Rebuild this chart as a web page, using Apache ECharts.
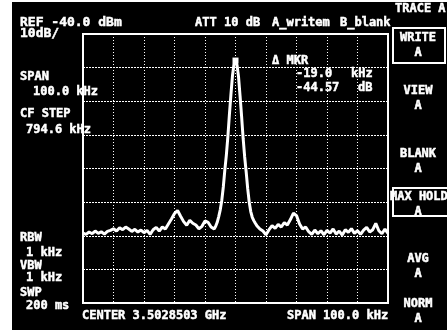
<!DOCTYPE html>
<html>
<head>
<meta charset="utf-8">
<style>
  html, body { margin: 0; padding: 0; background: #ffffff; }
  #chart { width: 447px; height: 336px; }
</style>
<script src="https://cdn.jsdelivr.net/npm/echarts@6/dist/echarts.min.js"></script>
</head>
<body>
<div id="chart"></div>
<script>
// Frequency offset from the centre frequency (kHz)
const freqOffsetKHz = [
  -50, -49, -48, -47, -46, -45, -44, -43, -42, -41,
  -40, -39, -38, -37, -36, -35, -34, -33, -32, -31,
  -30, -29, -28, -27, -26, -25, -24, -23, -22, -21,
  -20, -19, -18, -17, -16, -15, -14, -13, -12, -11,
  -10, -9, -8,
  -7, -6.5, -6, -5.5, -5, -4.5, -4, -3.5, -3, -2.5, -2, -1.5, -1, -0.5,
  0,
  0.5, 1, 1.5, 2, 2.5, 3, 3.5, 4, 4.5, 5, 5.5, 6, 6.5, 7,
  8, 9, 10, 11, 12, 13, 14, 15, 16, 17,
  18, 19, 20, 21, 22, 23, 24, 25, 26, 27,
  28, 29, 30, 31, 32, 33, 34, 35, 36, 37,
  38, 39, 40, 41, 42, 43, 44, 45, 46, 47,
  48, 49, 50
];

// Trace A level (dBm)
const levelDbm = [
  -99.2, -99.6, -98.9, -99.4, -98.6, -99.3, -98.8, -99.5, -98.7, -98.4,
  -97.9, -98.6, -97.6, -98.2, -97.4, -98.0, -98.7, -98.1, -98.9, -98.3,
  -99.1, -98.4, -99.6, -98.2, -97.5, -98.6, -97.4, -98.0, -96.5, -95.0,
  -93.4, -92.47, -94.2, -95.8, -96.9, -95.4, -96.3, -96.8, -97.9, -97.2,
  -95.6, -96.0, -97.4,
  -98.0, -97.2, -96.0, -94.3, -92.3, -89.5, -85.5, -80.5, -76.0, -70.5, -64.0, -58.0, -52.5, -49.0,
  -47.9,
  -49.2, -52.8, -58.5, -64.5, -71.0, -76.5, -81.0, -86.0, -90.0, -92.8, -94.5, -95.5, -96.3, -97.0,
  -98.0, -98.6, -99.7, -98.2, -97.0, -97.8, -96.6, -97.4, -96.1, -96.8,
  -95.2, -93.3, -94.0, -96.5, -98.0, -97.4, -98.8, -99.6, -98.3, -99.4,
  -98.5, -99.7, -98.4, -99.2, -98.0, -99.5, -98.6, -99.8, -98.2, -99.0,
  -97.9, -99.3, -98.5, -99.6, -98.3, -97.5, -98.9, -98.2, -96.3, -98.5,
  -99.4, -98.0, -99.3
];

// Display scale
const refLevelDbm = -40;
const dbPerDiv = 10;
const verticalDivs = 8;
const spanKHz = 100;
const horizontalDivs = 10;

// Readouts
const headerTexts = ['REF -40.0 dBm', '10dB/', 'ATT', '10 dB', 'A_writem', 'B_blank'];
const leftPanel = [
  ['SPAN', 20, 71], ['100.0 kHz', 33, 86], ['CF STEP', 20, 108], ['794.6 kHz', 26, 124],
  ['RBW', 20, 232], ['1 kHz', 26, 247], ['VBW', 20, 260], ['1 kHz', 26, 272],
  ['SWP', 20, 287], ['200 ms', 26, 300]
];
const softKeys = [
  ['WRITE', 'A', 32], ['VIEW', 'A', 85], ['BLANK', 'A', 148],
  ['MAX HOLD', 'A', 191], ['AVG', 'A', 253], ['NORM', 'A', 298]
];
const markerTexts = ['Δ MKR', '-19.0', 'kHz', '-44.57', 'dB'];
const footerTexts = ['CENTER 3.5028503 GHz', 'SPAN 100.0 kHz'];

const traceData = freqOffsetKHz.map((f, i) => [f, levelDbm[i]]);

function txt(s, x, y, align, size) {
  return {
    type: 'text', x: x, y: y, z: 100,
    style: {
      text: s, fill: '#ffffff', stroke: '#ffffff', lineWidth: 0.5,
      font: 'bold ' + (size || 12) + 'px "DejaVu Sans Mono"',
      textAlign: align || 'left', textVerticalAlign: 'top'
    }
  };
}

const graphics = [
  { type: 'rect', shape: { x: 12, y: 2, width: 435, height: 328 }, style: { fill: '#000000' }, z: -10 },
  txt(headerTexts[0], 20, 16, 'left', 13),
  txt(headerTexts[1], 20, 27, 'left', 13),
  txt(headerTexts[2], 195, 17),
  txt(headerTexts[3], 224, 17),
  txt(headerTexts[4], 272, 17),
  txt(headerTexts[5], 340, 17),
  txt('TRACE A', 395, 3),
  txt(markerTexts[0], 272, 55),
  txt(markerTexts[1], 296, 68),
  txt(markerTexts[2], 351, 68),
  txt(markerTexts[3], 296, 82),
  txt(markerTexts[4], 358, 82),
  txt(footerTexts[0], 82, 310),
  txt(footerTexts[1], 287, 310)
];
leftPanel.forEach(p => graphics.push(txt(p[0], p[1], p[2])));
softKeys.forEach(k => {
  graphics.push(txt(k[0], k[0] === 'MAX HOLD' ? 390 : 418, k[2], k[0] === 'MAX HOLD' ? 'left' : 'center'));
  graphics.push(txt(k[1], 418, k[2] + 15, 'center'));
});
// Highlighted soft keys
graphics.push({ type: 'rect', z: 99, shape: { x: 393, y: 28, width: 52, height: 35 },
  style: { fill: null, stroke: '#ffffff', lineWidth: 2 } });
graphics.push({ type: 'rect', z: 99, shape: { x: 393, y: 188, width: 56, height: 28 },
  style: { fill: null, stroke: '#ffffff', lineWidth: 2 } });

const chart = echarts.init(document.getElementById('chart'), null, { renderer: 'canvas' });
chart.setOption({
  backgroundColor: '#ffffff',
  animation: false,
  grid: {
    left: 83, top: 34, width: 305, height: 269,
    show: true, borderColor: '#ffffff', borderWidth: 2, backgroundColor: 'transparent'
  },
  xAxis: {
    type: 'value',
    min: -spanKHz / 2, max: spanKHz / 2, interval: spanKHz / horizontalDivs,
    axisLine: { show: false }, axisTick: { show: false }, axisLabel: { show: false },
    splitLine: { show: true, lineStyle: { color: '#ffffff', width: 1, type: [1, 2] } }
  },
  yAxis: {
    type: 'value',
    min: refLevelDbm - dbPerDiv * verticalDivs, max: refLevelDbm, interval: dbPerDiv,
    axisLine: { show: false }, axisTick: { show: false }, axisLabel: { show: false },
    splitLine: { show: true, lineStyle: { color: '#ffffff', width: 1, type: [2, 1] } }
  },
  series: [{
    type: 'line',
    data: traceData,
    showSymbol: false,
    lineStyle: { color: '#ffffff', width: 3 },
    markPoint: {
      symbol: 'rect', symbolSize: [6, 6],
      itemStyle: { color: '#ffffff' },
      label: { show: false },
      data: [{ coord: [0, -47.9] }]
    }
  }],
  graphic: graphics
});
</script>
</body>
</html>
